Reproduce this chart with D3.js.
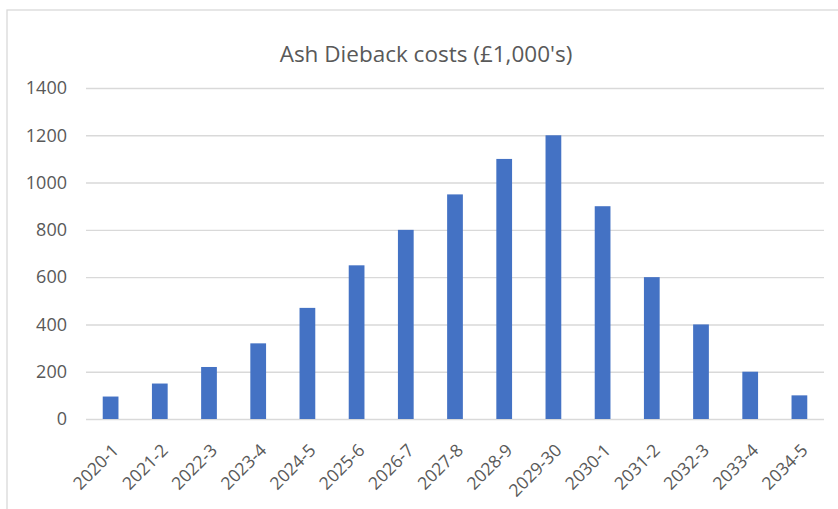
<!DOCTYPE html>
<html><head><meta charset="utf-8">
<script src="https://cdn.jsdelivr.net/npm/d3@7"></script>
<style>body{margin:0;background:#fff;} text{font-family:"Open Sans",Arial,sans-serif;}</style>
</head><body><svg id="c" width="838" height="509"></svg>
<script>
const categories = ["2020-1","2021-2","2022-3","2023-4","2024-5","2025-6","2026-7","2027-8","2028-9","2029-30","2030-1","2031-2","2032-3","2033-4","2034-5"];
const costs = [95,150,220,320,470,650,800,950,1100,1200,900,600,400,200,100];
const yTicks = [0,200,400,600,800,1000,1200,1400];
const title = "Ash Dieback costs (£1,000's)";

const svg = d3.select("#c");
const m = {left:86, right:14, top:88, bottom:90};
const W = 838, H = 509;
svg.append("rect").attr("x",7).attr("y",10).attr("width",W).attr("height",H).attr("fill","#fff").attr("stroke","#d9d9d9").attr("stroke-width",1.3);

const x = d3.scaleBand().domain(categories).range([m.left, W-m.right]).paddingInner(0.68).paddingOuter(0.34);
const y = d3.scaleLinear().domain([0,1400]).range([H-m.bottom, m.top]);

svg.append("text").attr("x",426).attr("y",62).attr("text-anchor","middle").attr("fill","#595959").attr("font-size",22.5).text(title);

const gy = svg.append("g").attr("transform",`translate(${m.left},0)`)
  .call(d3.axisLeft(y).tickValues(yTicks).tickFormat(d3.format("d")).tickSize(-(W-m.right-m.left)).tickPadding(19));
gy.select(".domain").remove();
gy.selectAll(".tick line").attr("stroke","#d9d9d9").attr("stroke-width",1.4);
gy.selectAll(".tick text").attr("fill","#595959").attr("font-size",18);

svg.append("g").selectAll("rect").data(costs).join("rect")
  .attr("x",(d,i)=>x(categories[i])).attr("width",x.bandwidth())
  .attr("y",d=>y(d)).attr("height",d=>y(0)-y(d)).attr("fill","#4472c4");

const gx = svg.append("g").attr("transform",`translate(0,${y(0)})`)
  .call(d3.axisBottom(x).tickSize(0).tickPadding(0));
gx.select(".domain").remove();
gx.selectAll(".tick text").attr("fill","#595959").attr("font-size",17.5)
  .attr("text-anchor","end").attr("y",0).attr("dy","0.35em")
  .attr("transform","translate(5,28) rotate(-45)");
</script></body></html>
